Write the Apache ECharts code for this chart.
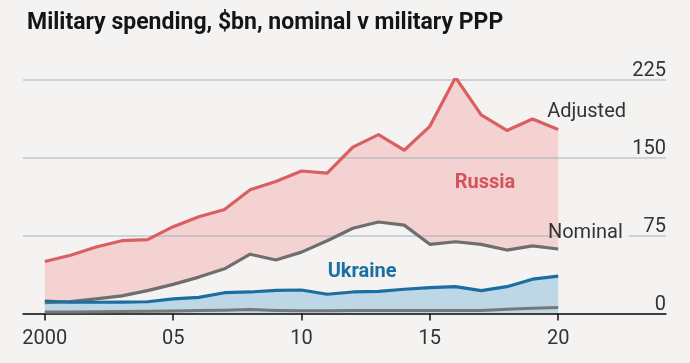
<!DOCTYPE html>
<html><head><meta charset="utf-8">
<script src="https://cdn.jsdelivr.net/npm/echarts@6/dist/echarts.min.js"></script>
<style>html,body{margin:0;padding:0;background:#f4f3f1}#c{width:690px;height:363px}</style>
</head><body><div id="c"></div>
<script>
const years = [2000,2001,2002,2003,2004,2005,2006,2007,2008,2009,2010,2011,2012,2013,2014,2015,2016,2017,2018,2019,2020];
const russiaAdjusted = [50,56,64,70,71,83.5,93,100,119,127,137,135,160,172,157,180,227,191,176,187,177];
const russiaNominal = [10.5,11.5,14,17,22,28,35,43,57,51.5,59,70,82,88,85,66.5,69,66.5,61,65,62];
const ukraineAdjusted = [12,10.8,10.8,11,11.3,14,15.5,20,20.7,22.3,22.6,18.5,20.7,21.3,23.3,24.8,25.8,22,25.8,33,36];
const ukraineNominal = [1.5,1.5,1.7,1.9,2.2,2.5,2.8,3.2,3.8,3.0,2.7,2.6,2.9,3.0,2.8,2.9,3.0,3.0,4.0,5.0,5.7];
const tickYears = [2000,2005,2010,2015,2020];

const BG = '#f4f3f1';
const RED = '#da5f62', PINK = '#f3d2d1', GREY = '#6e6e6e', BLUE = '#1b6e9f', LBLUE = '#bdd7e6';
const pair = arr => years.map((y, i) => [y, arr[i]]);

const chart = echarts.init(document.getElementById('c'), null, {renderer: 'canvas'});
function area(data, color, z) {
  return {type: 'line', data: pair(data), z: z, showSymbol: false, symbol: 'none', silent: true,
    lineStyle: {width: 0, opacity: 0}, areaStyle: {color: color, opacity: 1, origin: 0}};
}
function line(data, color, w) {
  return {type: 'line', data: pair(data), z: 5, showSymbol: false, symbol: 'none', silent: true,
    lineStyle: {width: w, color: color, join: 'round', cap: 'butt'}};
}
chart.setOption({
  backgroundColor: BG,
  animation: false,
  textStyle: {fontFamily: 'Roboto'},
  title: {text: 'Military spending, $bn, nominal v military PPP', left: 22, top: 7,
    textStyle: {fontSize: 23, fontWeight: 'bold', color: '#151515', fontFamily: 'Roboto'}},
  grid: {left: 23, right: 24, top: 79.5, bottom: 49.5},
  xAxis: {type: 'value', min: 1999.15, max: 2024.2, z: 4,
    axisLine: {lineStyle: {color: '#111', width: 1.5}},
    axisTick: {customValues: tickYears, length: 7, lineStyle: {color: '#111', width: 1.5}},
    axisLabel: {customValues: tickYears, fontSize: 20, color: '#333', margin: 15,
      formatter: v => v === 2000 ? '2000' : String(v).slice(2)},
    splitLine: {show: false}},
  yAxis: {type: 'value', min: 0, max: 225, interval: 75, position: 'right', z: 3,
    axisLine: {show: false}, axisTick: {show: false},
    axisLabel: {inside: true, align: 'right', verticalAlign: 'bottom', margin: 0, fontSize: 20, color: '#333', lineHeight: 18},
    splitLine: {lineStyle: {color: '#9fb0bd', width: 1.6, opacity: 0.65}}},
  series: [
    area(russiaAdjusted, PINK, 1),
    area(russiaNominal, BG, 1),
    area(ukraineAdjusted, LBLUE, 1),
    line(russiaAdjusted, RED, 3.2),
    line(russiaNominal, GREY, 3.2),
    line(ukraineAdjusted, BLUE, 3.2),
    line(ukraineNominal, '#787878', 3)
  ]
});
const px = p => chart.convertToPixel({gridIndex: 0}, p);
const labels = [
  {text: 'Adjusted', at: [2019.57, 194], align: 'left', color: '#333', weight: 'normal'},
  {text: 'Nominal', at: [2019.6, 77.4], align: 'left', color: '#333', weight: 'normal'},
  {text: 'Russia', at: [2017.15, 125.5], align: 'center', color: '#d4545b', weight: 'bold'},
  {text: 'Ukraine', at: [2012.36, 40], align: 'center', color: '#1a6fa5', weight: 'bold'}
];
const gapL = px([years[years.length - 1], 75]);
const gapR = px([2022.75, 75]);
const graphics = [{type: 'rect', z: 99, silent: true,
  shape: {x: gapL[0] + 1.6, y: gapL[1] - 2, width: gapR[0] - gapL[0] - 1.6, height: 4},
  style: {fill: BG}}];
labels.forEach(l => {
  const p = px(l.at);
  graphics.push({type: 'text', x: p[0], y: p[1], z: 100, silent: true,
    style: {text: l.text, fill: l.color, fontSize: 20, fontWeight: l.weight, fontFamily: 'Roboto',
      textAlign: l.align, textVerticalAlign: 'middle', verticalAlign: 'middle'}});
});
chart.setOption({graphic: graphics});
</script></body></html>
